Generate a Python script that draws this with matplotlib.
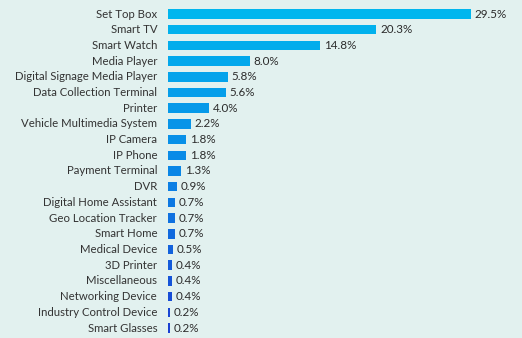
import matplotlib
matplotlib.use("Agg")
import matplotlib.pyplot as plt
import numpy as np
from matplotlib.colors import LinearSegmentedColormap

categories = ["Set Top Box", "Smart TV", "Smart Watch", "Media Player",
              "Digital Signage Media Player", "Data Collection Terminal", "Printer",
              "Vehicle Multimedia System", "IP Camera", "IP Phone", "Payment Terminal",
              "DVR", "Digital Home Assistant", "Geo Location Tracker", "Smart Home",
              "Medical Device", "3D Printer", "Miscellaneous", "Networking Device",
              "Industry Control Device", "Smart Glasses"]
values = [29.5, 20.3, 14.8, 8.0, 5.8, 5.6, 4.0, 2.2, 1.8, 1.8, 1.3, 0.9, 0.7, 0.7,
          0.7, 0.5, 0.4, 0.4, 0.4, 0.2, 0.2]
value_labels = ["29.5%", "20.3%", "14.8%", "8.0%", "5.8%", "5.6%", "4.0%", "2.2%",
                "1.8%", "1.8%", "1.3%", "0.9%", "0.7%", "0.7%", "0.7%", "0.5%",
                "0.4%", "0.4%", "0.4%", "0.2%", "0.2%"]

bg = "#e2f1ef"
fig = plt.figure(figsize=(5.22, 3.38), dpi=100, facecolor=bg)
ax = fig.add_axes([168/522, 0, 1 - 168/522, 1])
ax.set_facecolor(bg)

cmap = LinearSegmentedColormap.from_list("g", ["#00b6ee", "#0a86e6", "#1a3fd2"])
n = len(categories)
y = np.arange(n)
colors = [cmap(i / (n - 1)) for i in range(n)]
ax.barh(y, values, height=0.6, color=colors, left=0)

for yi, v, lab in zip(y, values, value_labels):
    ax.text(v + 0.35, yi, lab, va="center", ha="left", fontsize=8.4,
            color="#2b2b2b", family="Lato")

for yi, c in zip(y, categories):
    ax.text(-1.05, yi, c, va="center", ha="right", fontsize=8.2,
            color="#333333", family="Lato", clip_on=False)

ax.set_xlim(0, 354 / 10.27)
ax.set_ylim(20 + 10 / 15.7, -14 / 15.7)
ax.axis("off")

fig.savefig("out.png", dpi=100, facecolor=bg)
